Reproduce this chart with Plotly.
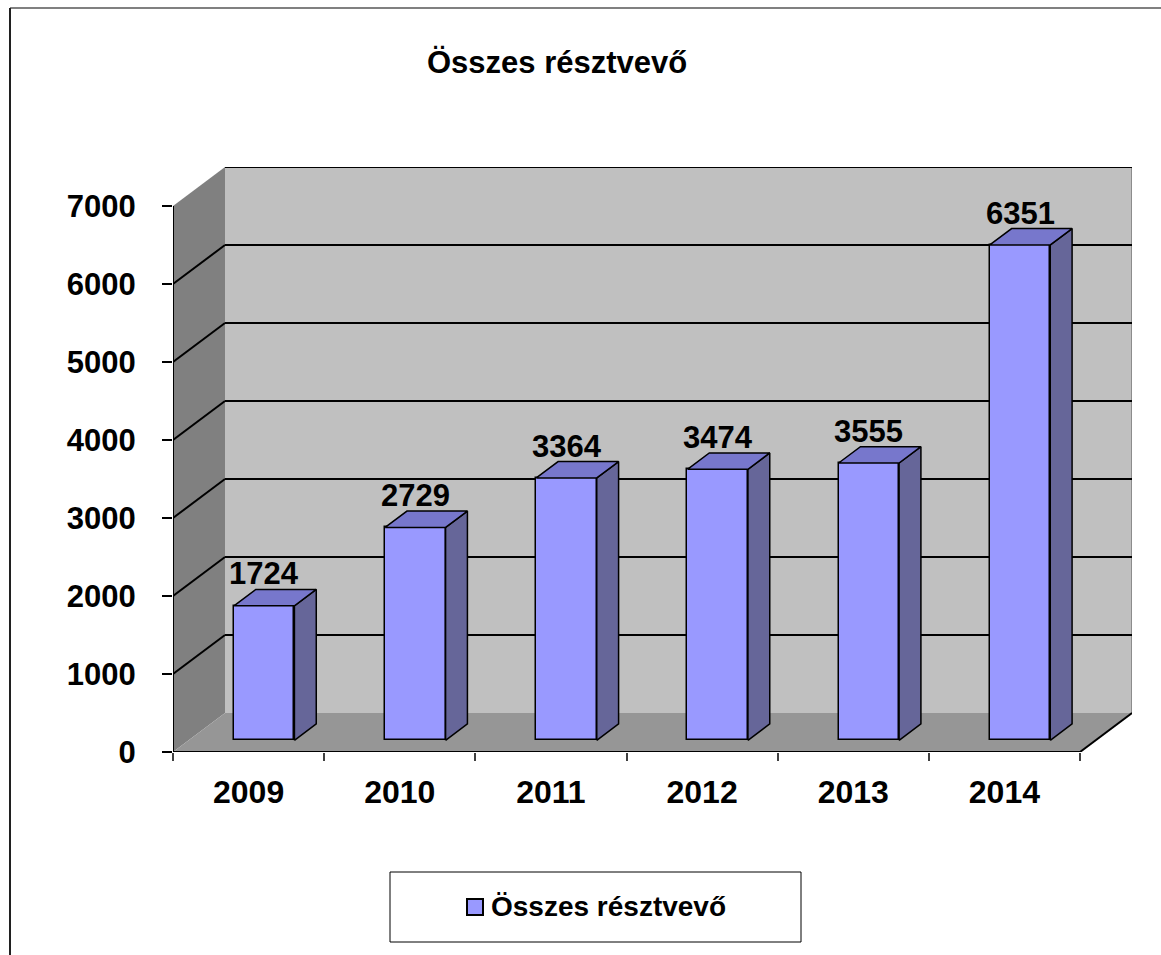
import plotly.graph_objects as go

# ---- data ----
years = ["2009", "2010", "2011", "2012", "2013", "2014"]
values = [1724, 2729, 3364, 3474, 3555, 6351]
y_ticks = [0, 1000, 2000, 3000, 4000, 5000, 6000, 7000]
title_text = "Összes résztvevő"
series_name = "Összes résztvevő"

# ---- layout constants ----
W, H = 1161, 955
L, R, T, B = 173, 29, 167, 203
DX, DY = 0.344, 500          # depth offset (x units, y units)
D0, D1 = 0.30, 0.72          # bar depth start/end (fraction)
BW = 0.40                    # bar width
YMAX = y_ticks[-1]
n = len(years)
XA, XB = -0.5, n - 0.5

FRONT = "#9999FF"
SIDE = "#666699"
TOP = "#7777CC"
FONT = "Liberation Sans, Arial, sans-serif"

pw = W - L - R
ph = H - T - B


def pxx(px):
    return (px - L) / pw


def pxy(py):
    return (H - B - py) / ph


shapes = []
# back wall
shapes.append(dict(type="rect", xref="x", yref="y", x0=XA + DX, x1=XB + DX, y0=DY, y1=YMAX + DY,
                   fillcolor="#C0C0C0", line=dict(width=0), layer="below"))
# left wall
shapes.append(dict(type="path", xref="x", yref="y",
                   path=f"M {XA},0 L {XA + DX},{DY} L {XA + DX},{YMAX + DY} L {XA},{YMAX} Z",
                   fillcolor="#808080", line=dict(width=0), layer="below"))
# floor
shapes.append(dict(type="path", xref="x", yref="y",
                   path=f"M {XA},0 L {XB},0 L {XB + DX},{DY} L {XA + DX},{DY} Z",
                   fillcolor="#969696", line=dict(width=0), layer="below"))
# back wall right edge
shapes.append(dict(type="line", xref="x", yref="y", x0=XB + DX, x1=XB + DX, y0=DY, y1=YMAX + DY,
                   line=dict(color="#8c8c8c", width=2), layer="below"))
# gridlines
for v in y_ticks[1:]:
    shapes.append(dict(type="line", xref="x", yref="y", x0=XA + DX, x1=XB + DX, y0=v + DY, y1=v + DY,
                       line=dict(color="black", width=2), layer="below"))
    if v < YMAX:
        shapes.append(dict(type="line", xref="x", yref="y", x0=XA, x1=XA + DX, y0=v, y1=v + DY,
                           line=dict(color="black", width=2), layer="below"))
# front axis line and floor edges
shapes.append(dict(type="line", xref="x", yref="y", x0=XA, x1=XA, y0=0, y1=YMAX,
                   line=dict(color="black", width=2), layer="below"))
shapes.append(dict(type="line", xref="x", yref="y", x0=XA, x1=XB, y0=0, y1=0,
                   line=dict(color="black", width=2), layer="below"))
shapes.append(dict(type="line", xref="x", yref="y", x0=XB, x1=XB + DX, y0=0, y1=DY,
                   line=dict(color="black", width=2), layer="below"))

# outer frame
shapes.append(dict(type="line", xref="paper", yref="paper", x0=pxx(10), x1=pxx(W + 5), y0=pxy(8), y1=pxy(8),
                   line=dict(color="#808080", width=2)))
shapes.append(dict(type="line", xref="paper", yref="paper", x0=pxx(10), x1=pxx(10), y0=pxy(8), y1=pxy(H + 5),
                   line=dict(color="#202020", width=2)))

# legend box
shapes.append(dict(type="rect", xref="paper", yref="paper", x0=pxx(390), x1=pxx(801), y0=pxy(942), y1=pxy(872),
                   fillcolor="white", line=dict(color="black", width=1)))
shapes.append(dict(type="rect", xref="paper", yref="paper", x0=pxx(467), x1=pxx(483), y0=pxy(915), y1=pxy(899),
                   fillcolor=FRONT, line=dict(color="black", width=2)))

fig = go.Figure()

# front faces
xc = [i + D0 * DX for i in range(n)]
fig.add_trace(go.Bar(x=xc, y=values, base=D0 * DY, width=BW,
                     marker=dict(color=FRONT, line=dict(color="black", width=1.5)),
                     hoverinfo="skip", showlegend=False))

dd_x = (D1 - D0) * DX
dd_y = (D1 - D0) * DY
for i, v in enumerate(values):
    xl = xc[i] - BW / 2
    xr = xc[i] + BW / 2
    yb = D0 * DY
    yt = v + D0 * DY
    # side face
    fig.add_trace(go.Scatter(x=[xr, xr + dd_x, xr + dd_x, xr, xr],
                             y=[yb, yb + dd_y, yt + dd_y, yt, yb],
                             mode="lines", fill="toself", fillcolor=SIDE,
                             line=dict(color="black", width=1.5), hoverinfo="skip", showlegend=False))
    # top face
    fig.add_trace(go.Scatter(x=[xl, xr, xr + dd_x, xl + dd_x, xl],
                             y=[yt, yt, yt + dd_y, yt + dd_y, yt],
                             mode="lines", fill="toself", fillcolor=TOP,
                             line=dict(color="black", width=1.5), hoverinfo="skip", showlegend=False))

annotations = []
for i, v in enumerate(values):
    annotations.append(dict(x=xc[i], y=v + D1 * DY, xref="x", yref="y", text=f"<b>{v}</b>",
                            showarrow=False, xanchor="center", yanchor="bottom", yshift=-4,
                            font=dict(family=FONT, size=31, color="black")))
# title
annotations.append(dict(x=pxx(557), y=pxy(63), xref="paper", yref="paper", text=f"<b>{title_text}</b>",
                        showarrow=False, xanchor="center", yanchor="middle",
                        font=dict(family=FONT, size=31, color="black")))
# legend text
annotations.append(dict(x=pxx(489), y=pxy(906), xref="paper", yref="paper", text=f"<b>{series_name}</b>",
                        showarrow=False, xanchor="left", yanchor="middle",
                        font=dict(family=FONT, size=28, color="black")))

fig.update_layout(
    width=W, height=H,
    margin=dict(l=L, r=R, t=T, b=B, autoexpand=False),
    paper_bgcolor="white", plot_bgcolor="white",
    shapes=shapes, annotations=annotations, showlegend=False,
    bargap=0,
    xaxis=dict(range=[XA, XB + DX], showgrid=False, zeroline=False, showline=False,
               tickmode="array", tickvals=list(range(n)), ticktext=[f"<b>{y}</b>" for y in years],
               ticks="", ticklen=0, ticklabelstandoff=18,
               tickfont=dict(family=FONT, size=32, color="black"),
               minor=dict(tickmode="array", tickvals=[k - 0.5 for k in range(n + 1)], ticks="outside",
                          ticklen=8, tickcolor="#404040", tickwidth=1.5, showgrid=False),
               fixedrange=True),
    yaxis=dict(range=[0, YMAX + DY], showgrid=False, zeroline=False, showline=False,
               tickmode="array", tickvals=y_ticks, ticktext=[f"<b>{t}</b>" for t in y_ticks],
               ticks="outside", ticklen=10, tickcolor="black", tickwidth=1.5, ticklabelstandoff=20,
               tickfont=dict(family=FONT, size=31, color="black"), fixedrange=True),
)

fig.write_html("out.html", config={"displayModeBar": False},
               post_script="document.body.style.margin='0';document.body.style.overflow='hidden';")
